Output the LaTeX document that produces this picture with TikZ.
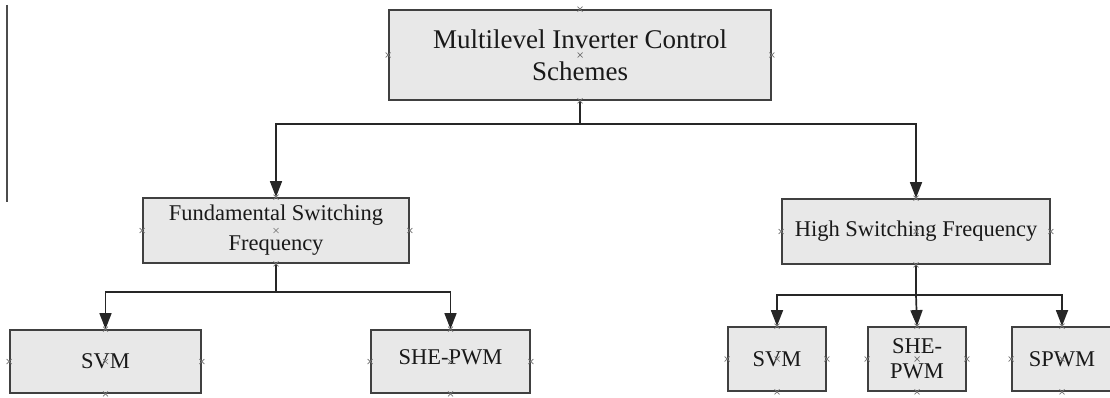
\documentclass[tikz,border=0pt]{standalone}
\usepackage{fontspec}
\setmainfont{Liberation Serif}
\usetikzlibrary{arrows.meta}
\tikzset{
  box/.style={draw=black!75, line width=1.8pt, fill=gray!18, rectangle, inner sep=0pt, align=center,
    font=\fontsize{22.5}{30}\selectfont, text=black!90},
  arr/.style={draw=black!85, line width=1.7pt, -{Triangle[length=16pt,width=12pt]}},
  ln/.style={draw=black!85, line width=1.7pt},
  mk/.style={draw=black!55, line width=0.7pt},
}
\newcommand\boxmarks[1]{%
  \foreach \a in {north,south,east,west,center}{%
    \draw[mk] (#1.\a) ++(-2.5pt,-2.5pt) -- ++(5pt,5pt) ++(-5pt,0) -- ++(5pt,-5pt);}}
\begin{document}
\begin{tikzpicture}[x=1pt,y=-1pt]
\useasboundingbox (0,0) rectangle (1110,398);
\draw[ln, draw=black!70, line width=1.4pt] (7,5) coordinate (vl1) -- (7,202) coordinate (vl2);

\node[box, minimum width=382pt, minimum height=90pt, font=\fontsize{27}{32}\selectfont] (top) at (580,55) {Multilevel Inverter Control\\Schemes};
\node[box, minimum width=266pt, minimum height=65pt] (fund) at (276,230.5) {Fundamental Switching\\Frequency};
\node[box, minimum width=268pt, minimum height=65pt] (high) at (916,231.5) {High Switching Frequency};
\node[box, minimum width=191pt, minimum height=63pt] (svma) at (105.5,361.5) {SVM};
\node[box, minimum width=159pt, minimum height=63pt] (shea) at (450.5,361.5) {\raisebox{9pt}{SHE-PWM}};
\node[box, minimum width=98pt, minimum height=64pt, font=\fontsize{22.5}{25}\selectfont] (svmb) at (777,359) {SVM};
\node[box, minimum width=98pt, minimum height=64pt, font=\fontsize{22.5}{25}\selectfont] (sheb) at (917,359) {SHE-\\PWM};
\node[box, minimum width=100pt, minimum height=64pt] (spwm) at (1062,359) {SPWM};

\draw[ln] (top.south) -- (top.south |- 0,124) coordinate (j1);
\draw[arr] (j1) -| (fund.north);
\draw[arr] (j1) -| (high.north);

\draw[ln] (fund.south) -- (fund.south |- 0,292) coordinate (j2);
\draw[arr] (j2) -| (svma.north);
\draw[arr] (j2) -| (shea.north);

\draw[ln] (high.south) -- (high.south |- 0,295) coordinate (j3);
\draw[arr] (j3) -| (svmb.north);
\draw[arr] (j3) -- (sheb.north);
\draw[arr] (j3) -| (spwm.north);

\boxmarks{top}\boxmarks{fund}\boxmarks{high}\boxmarks{svma}
\boxmarks{shea}\boxmarks{svmb}\boxmarks{sheb}\boxmarks{spwm}
\end{tikzpicture}
\end{document}
